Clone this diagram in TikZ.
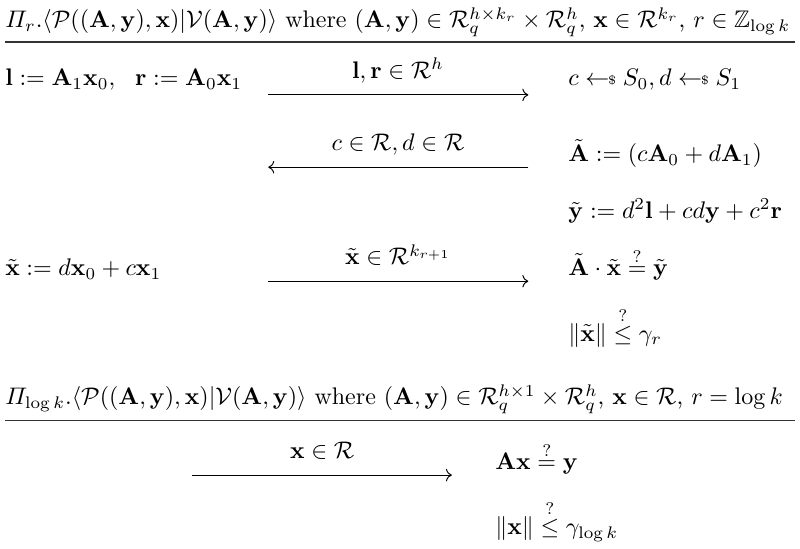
\documentclass[tikz,border=0pt]{standalone}
\usepackage{amsmath,amssymb}
\usepackage{tikz}
\usetikzlibrary{arrows.meta,positioning}
\newcommand{\Rng}{\mathcal{R}}
\newcommand{\bA}{\mathbf{A}}
\newcommand{\bx}{\mathbf{x}}
\newcommand{\by}{\mathbf{y}}
\newcommand{\smp}{\mathrel{\leftarrow\!\!\raisebox{0.15ex}{$\scriptscriptstyle\$$}}}
\newcommand{\qeq}{\stackrel{?}{=}}
\newcommand{\qle}{\stackrel{?}{\le}}

\begin{document}
\begin{tikzpicture}[
  txt/.style={anchor=base west, inner sep=0pt},
  msg/.style={anchor=base, inner sep=0pt},
  flow/.style={->, line width=0.4pt},
  rulel/.style={line width=0.7pt, black!80}]

% ===== canvas 800x548 px ~ 11.72 x 8.03 cm =====
\def\W{11.72} \def\H{8.03}
\useasboundingbox (0,0) rectangle (\W,\H);

% ============ round r ============
\node[txt] (hdR) at (0.07,7.62)
  {$\varPi_r.\langle\mathcal{P}((\bA,\by),\bx)|\mathcal{V}(\bA,\by)\rangle$ where $(\bA,\by)\in\Rng_q^{h\times k_r}\times\Rng_q^h$, $\bx\in\Rng^{k_r}$, $r\in\mathbb{Z}_{\log k}$};
\draw[rulel] (0.07,7.41)--(11.65,7.41);

\node[txt] (lr) at (0.07,6.77) {$\mathbf{l}:=\bA_1\bx_0,\ \ \mathbf{r}:=\bA_0\bx_1$};
\node[txt] (cd) at (8.32,6.77) {$c\smp S_0, d\smp S_1$};
\coordinate (m1a) at (3.93,6.64); \coordinate (m1b) at (7.74,6.64);
\draw[flow] (m1a)--(m1b);
\node[msg] (m1) at (5.83,6.88) {$\mathbf{l},\mathbf{r}\in\Rng^h$};

\coordinate (m2a) at (7.74,5.58); \coordinate (m2b) at (3.93,5.58);
\draw[flow] (m2a)--(m2b);
\node[msg] (m2) at (5.83,5.83) {$c\in\Rng,d\in\Rng$};
\node[txt] (At) at (8.32,5.66) {$\tilde{\bA}:=(c\bA_0+d\bA_1)$};
\node[txt] (yt) at (8.32,4.83) {$\tilde{\by}:=d^2\mathbf{l}+cd\by+c^2\mathbf{r}$};

\node[txt] (xt) at (0.07,3.99) {$\tilde{\bx}:=d\bx_0+c\bx_1$};
\coordinate (m3a) at (3.93,3.91); \coordinate (m3b) at (7.74,3.91);
\draw[flow] (m3a)--(m3b);
\node[msg] (m3) at (5.83,4.15) {$\tilde{\bx}\in\Rng^{k_{r+1}}$};
\node[txt] (chk1) at (8.32,3.99) {$\tilde{\bA}\cdot\tilde{\bx}\qeq\tilde{\by}$};
\node[txt] (nrm1) at (8.32,3.03) {$\|\tilde{\bx}\|\qle\gamma_r$};

% ============ last round ============
\node[txt] (hdL) at (0.07,2.10)
  {$\varPi_{\log k}.\langle\mathcal{P}((\bA,\by),\bx)|\mathcal{V}(\bA,\by)\rangle$ where $(\bA,\by)\in\Rng_q^{h\times 1}\times\Rng_q^h$, $\bx\in\Rng$, $r=\log k$};
\draw[rulel] (0.07,1.87)--(11.65,1.87);

\coordinate (m4a) at (2.81,1.07); \coordinate (m4b) at (6.62,1.07);
\draw[flow] (m4a)--(m4b);
\node[msg] (m4) at (4.72,1.31) {$\bx\in\Rng$};
\node[txt] (chk2) at (7.25,1.15) {$\bA\bx\qeq\by$};
\node[txt] (nrm2) at (7.25,0.20) {$\|\bx\|\qle\gamma_{\log k}$};

\end{tikzpicture}
\end{document}
